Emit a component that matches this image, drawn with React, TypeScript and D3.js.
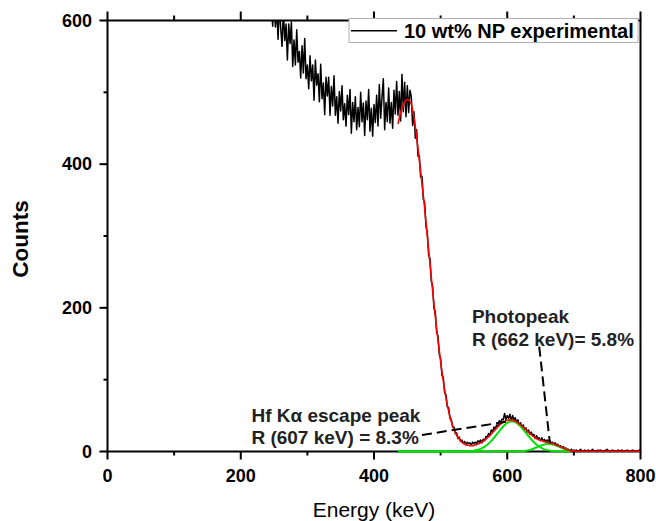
import React from 'react';
import * as d3 from 'd3';

const W = 656;
const H = 521;
const PLOT = { left: 107.5, right: 640.5, top: 20.5, bottom: 451.5 };
const FONT = "'Liberation Sans', Arial, Helvetica, sans-serif";

// Experimental spectrum: channel energies start at 240 keV with a 2 keV step
const ENERGY_START = 240;
const ENERGY_STEP = 2;
const counts = [
  660, 610, 645, 615, 592, 633, 591, 616, 574, 623,
  589, 564, 615, 572, 595, 545, 595, 568, 598, 536,
  573, 538, 587, 542, 557, 520, 565, 527, 575, 519,
  538, 505, 551, 516, 538, 489, 545, 510, 526, 487,
  539, 491, 513, 469, 521, 495, 521, 468, 508, 481,
  523, 468, 494, 457, 501, 474, 509, 462, 484, 453,
  496, 469, 504, 443, 486, 459, 494, 448, 479, 452,
  500, 459, 485, 440, 488, 462, 504, 446, 478, 439,
  483, 458, 496, 453, 511, 464, 493, 519, 448, 486,
  459, 506, 457, 486, 450, 503, 470, 515, 468, 501,
  460, 525, 473, 514, 466, 509, 472,
  503, 494, 454, 473, 436, 448, 411, 412, 382, 383,
  351, 347, 313, 306, 273, 269, 237, 230, 199, 195,
  166, 161, 135, 129, 106, 103, 82, 79, 62, 61,
  46, 45, 34, 34, 25, 26, 18, 20, 14, 16,
  11, 14, 9, 13, 11, 12, 9, 13, 11, 13,
  11, 15, 13, 16,
  12, 17, 15, 21, 20, 25, 22, 30, 27, 34,
  31, 37, 35, 43, 40, 45, 44, 53, 44, 50,
  46, 52, 43, 50, 44, 47, 40, 44, 37, 40,
  34, 37, 30, 33, 27, 30, 24, 27, 22, 24,
  18, 22, 18, 19, 15, 19, 14, 17, 13, 16,
  14, 15, 12, 13, 10, 12, 9, 10, 7, 8,
  5, 7, 4, 5, 3, 3, 2, 3, 1, 2,
  1, 2, 0, 1, 3, 1, 0, 2, 1, 1,
  2, 0, 1, 3, 1, 1, 0, 2, 1, 2,
  1, 0, 1, 2, 3, 1, 0, 1, 2, 1,
  1, 0, 2, 1, 1, 2, 0, 1, 1, 2,
  1, 0, 1, 2, 1, 1, 0, 1, 2, 1,
];

// Total fit (red)
const fitEnergy = [
  436, 440, 445, 450, 455, 460, 465, 470, 475, 480, 485, 490, 495, 500, 505, 510,
  515, 520, 525, 530, 535, 540, 545, 550, 555, 560, 565, 570, 575, 580, 585, 590,
  595, 600, 605, 610, 615, 620, 625, 630, 635, 640, 645, 650, 655, 660, 665, 670,
  675, 680, 685, 690, 695, 700, 710, 720, 740, 760, 780, 800,
];
const fitCounts = [
  456, 472, 485, 490, 486, 465, 430, 390, 348, 300, 252, 205, 163, 125, 92, 65,
  45, 31, 21, 15, 11, 9, 8, 8.5, 10, 12, 15, 19, 23.5, 28.5, 33.5, 38,
  41.5, 43.5, 44, 43, 40.5, 37, 33, 28.5, 24, 20.5, 17.5, 15.5, 14, 13, 12, 10.5,
  8.5, 6.5, 4.5, 2.5, 1.2, 0.6, 0.4, 0.3, 0.3, 0.3, 0.3, 0.3,
];

// Peak components (green)
const compEnergy = [
  436, 440, 445, 450, 455, 460, 465, 470, 475, 480, 485, 490, 495, 500, 505, 510,
  515, 520, 525, 530, 535, 540, 545, 550, 555, 560, 565, 570, 575, 580, 585, 590,
  595, 600, 605, 610, 615, 620, 625, 630, 635, 640, 645, 650, 655, 660, 665, 670,
  675, 680, 685, 690, 695,
];
const escapeFit = [
  0, 0, 0, 0, 0, 0, 0, 0, 0, 0, 0, 0, 0, 0, 0, 0,
  0, 0.01, 0.03, 0.065, 0.15, 0.31, 0.63, 1.21, 2.19, 3.75, 6.12, 9.43, 13.77, 19.0, 24.8, 30.6,
  35.9, 39.8, 41.8, 41.6, 39.2, 34.9, 29.5, 23.6, 17.9, 12.8, 8.7, 5.56, 3.39, 1.95, 1.07, 0.55,
  0.27, 0.125, 0.055, 0.02, 0.01,
];
const photoFit = [
  0, 0, 0, 0, 0, 0, 0, 0, 0, 0, 0, 0, 0, 0, 0, 0,
  0, 0, 0, 0, 0, 0, 0, 0, 0, 0, 0, 0, 0, 0, 0, 0,
  0, 0.01, 0.02, 0.07, 0.16, 0.38, 0.8, 1.53, 2.66, 4.22, 6.09, 8.0, 9.57, 10.42, 10.32, 9.31,
  7.63, 5.7, 3.88, 2.4, 1.35,
];

const xMajor = [0, 200, 400, 600, 800];
const xMinor = [100, 300, 500, 700];
const yMajor = [0, 200, 400, 600];
const yMinor = [100, 300, 500];

const legendLabel = '10 wt% NP experimental';
const xTitle = 'Energy (keV)';
const yTitle = 'Counts';
const photoText = ['Photopeak', 'R (662 keV)= 5.8%'];
const escapeText = ['Hf K\u03b1 escape peak', 'R (607 keV) = 8.3%'];
// annotation anchors in data units [keV, counts]
const photoTextAt = [547, 179];
const escapeTextAt = [216, 41.5];
const photoArrow = [[648, 146], [664, 11.4]];
const escapeArrow = [[472, 23], [599, 41.5]];

export default function App() {
  const x = d3.scaleLinear().domain([0, 800]).range([PLOT.left, PLOT.right]);
  const y = d3.scaleLinear().domain([0, 600]).range([PLOT.bottom, PLOT.top]);

  const expLine = d3
    .line<number>()
    .x((_, i) => x(ENERGY_START + i * ENERGY_STEP))
    .y((d) => y(d));
  const smooth = (xs: number[]) =>
    d3
      .line<number>()
      .x((_, i) => x(xs[i]))
      .y((d) => y(d))
      .curve(d3.curveMonotoneX);

  const axisW = 2;
  const tickFont = { fontFamily: FONT, fontSize: 18, fontWeight: 'bold' as const };

  return (
    <svg
      width={W}
      height={H}
      style={{ position: 'absolute', left: 0, top: 0, background: '#fff' }}
    >
      <defs>
        <clipPath id="plotClip">
          <rect x={PLOT.left} y={PLOT.top} width={PLOT.right - PLOT.left} height={PLOT.bottom - PLOT.top + 2} />
        </clipPath>
      </defs>
      <rect x={0} y={0} width={W} height={H} fill="#fff" />

      {/* frame */}
      <rect
        x={PLOT.left}
        y={PLOT.top}
        width={PLOT.right - PLOT.left}
        height={PLOT.bottom - PLOT.top}
        fill="none"
        stroke="#000"
        strokeWidth={axisW}
      />

      {/* bottom and top ticks */}
      {xMajor.map((t) => (
        <g key={'xb' + t}>
          <line x1={x(t)} x2={x(t)} y1={PLOT.bottom} y2={PLOT.bottom + 8} stroke="#000" strokeWidth={axisW} />
          <line x1={x(t)} x2={x(t)} y1={PLOT.top} y2={PLOT.top - 9} stroke="#000" strokeWidth={axisW} />
          <text x={x(t)} y={481.5} textAnchor="middle" {...tickFont}>
            {t}
          </text>
        </g>
      ))}
      {xMinor.map((t) => (
        <g key={'xm' + t}>
          <line x1={x(t)} x2={x(t)} y1={PLOT.bottom} y2={PLOT.bottom + 4} stroke="#000" strokeWidth={axisW} />
          <line x1={x(t)} x2={x(t)} y1={PLOT.top} y2={PLOT.top - 5} stroke="#000" strokeWidth={axisW} />
        </g>
      ))}
      {yMajor.map((t) => (
        <g key={'yb' + t}>
          <line x1={PLOT.left} x2={PLOT.left - 8} y1={y(t)} y2={y(t)} stroke="#000" strokeWidth={axisW} />
          <text x={92} y={y(t)} dy="0.35em" textAnchor="end" {...tickFont}>
            {t}
          </text>
        </g>
      ))}
      {yMinor.map((t) => (
        <line key={'ym' + t} x1={PLOT.left} x2={PLOT.left - 4} y1={y(t)} y2={y(t)} stroke="#000" strokeWidth={axisW} />
      ))}

      {/* axis titles */}
      <text
        transform={`translate(20.5, ${(PLOT.top + PLOT.bottom) / 2 + 3}) rotate(-90)`}
        textAnchor="middle"
        dy="0.35em"
        fontFamily={FONT}
        fontSize={22.5}
        fontWeight="bold"
      >
        {yTitle}
      </text>
      <text x={x(400)} y={516.5} textAnchor="middle" fontFamily={FONT} fontSize={21}>
        {xTitle}
      </text>

      {/* data */}
      <g clipPath="url(#plotClip)">
        <path d={expLine(counts) || ''} fill="none" stroke="#000" strokeWidth={1.5} strokeLinejoin="round" />
        <path d={smooth(compEnergy)(escapeFit) || ''} fill="none" stroke="#00e000" strokeWidth={2} />
        <path d={smooth(compEnergy)(photoFit) || ''} fill="none" stroke="#00e000" strokeWidth={2} />
        <path d={smooth(fitEnergy)(fitCounts) || ''} fill="none" stroke="#ff0000" strokeWidth={1.6} />
      </g>

      {/* annotations */}
      <line
        x1={x(escapeArrow[0][0])}
        y1={y(escapeArrow[0][1])}
        x2={x(escapeArrow[1][0])}
        y2={y(escapeArrow[1][1])}
        stroke="#000"
        strokeWidth={2}
        strokeDasharray="10 5"
      />
      <line
        x1={x(photoArrow[0][0])}
        y1={y(photoArrow[0][1])}
        x2={x(photoArrow[1][0])}
        y2={y(photoArrow[1][1])}
        stroke="#000"
        strokeWidth={2}
        strokeDasharray="10 5"
      />
      <text x={x(photoTextAt[0])} y={y(photoTextAt[1])} fontFamily={FONT} fontSize={19} fontWeight="bold" fill="#222">
        <tspan x={x(photoTextAt[0])}>{photoText[0]}</tspan>
        <tspan x={x(photoTextAt[0])} dy={23}>
          {photoText[1]}
        </tspan>
      </text>
      <text x={x(escapeTextAt[0])} y={y(escapeTextAt[1])} fontFamily={FONT} fontSize={19} fontWeight="bold" fill="#222">
        <tspan x={x(escapeTextAt[0])}>{escapeText[0]}</tspan>
        <tspan x={x(escapeTextAt[0])} dy={22.5}>
          {escapeText[1]}
        </tspan>
      </text>

      {/* legend */}
      <rect x={349} y={18.5} width={289} height={24} fill="#fff" stroke="#b0b0b0" strokeWidth={1} />
      <line x1={351} x2={397} y1={30.7} y2={30.7} stroke="#000" strokeWidth={1.5} />
      <text x={404} y={37.5} fontFamily={FONT} fontSize={20} fontWeight="bold">
        {legendLabel}
      </text>
    </svg>
  );
}
